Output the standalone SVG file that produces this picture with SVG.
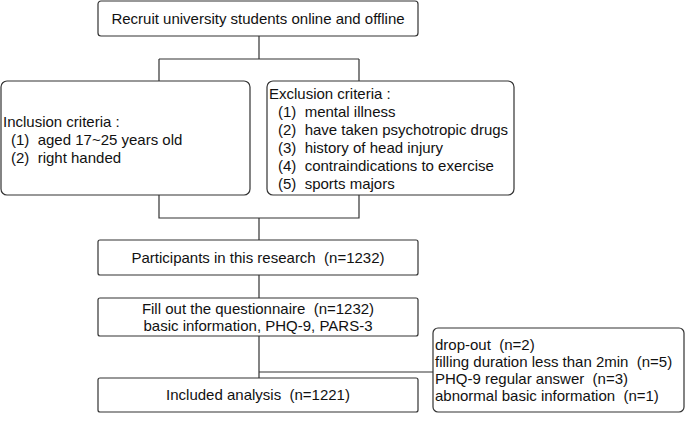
<svg xmlns="http://www.w3.org/2000/svg" width="685" height="443" viewBox="0 0 685 443">
<style>
.b{fill:#fff;stroke:#333;stroke-width:1.2}
.t{font-family:"Liberation Sans",Arial,sans-serif;font-size:15px;fill:#111;white-space:pre}
.c{text-anchor:middle}
.l{fill:none;stroke:#333;stroke-width:1.2}
</style>
<rect width="685" height="443" fill="#fff"/>
<g id="connectors">
<path class="l" d="M259 36V59M159 59H359M159 59V81M359 59V81M159 195V218H359V195M259 218V240M259 275V298M259 336V378M259 372H433"/>
</g>
<g id="recruit"><rect class="b" x="98" y="1" width="320" height="35" rx="3"/><text class="t c" x="258" y="24">Recruit university students online and offline</text></g>
<g id="inclusion"><rect class="b" x="1" y="81" width="249" height="114" rx="6"/>
<text class="t" x="3" y="127">Inclusion criteria :</text>
<text class="t" x="11" y="145">(1)  aged 17~25 years old</text>
<text class="t" x="11" y="163">(2)  right handed</text></g>
<g id="exclusion"><rect class="b" x="267" y="81" width="247" height="114" rx="6"/>
<text class="t" x="269" y="99">Exclusion criteria :</text>
<text class="t" x="278" y="117">(1)  mental illness</text>
<text class="t" x="278" y="135">(2)  have taken psychotropic drugs</text>
<text class="t" x="278" y="153">(3)  history of head injury</text>
<text class="t" x="278" y="171">(4)  contraindications to exercise</text>
<text class="t" x="278" y="189">(5)  sports majors</text></g>
<g id="participants"><rect class="b" x="98" y="240" width="320" height="35" rx="2"/><text class="t c" x="258" y="263">Participants in this research  (n=1232)</text></g>
<g id="questionnaire"><rect class="b" x="98" y="298" width="320" height="38" rx="2"/><text class="t c" x="258" y="314">Fill out the questionnaire  (n=1232)</text><text class="t c" x="258" y="331">basic information, PHQ-9, PARS-3</text></g>
<g id="dropout"><rect class="b" x="433" y="328" width="251" height="84" rx="5"/>
<text class="t" x="435" y="350">drop-out  (n=2)</text>
<text class="t" x="435" y="367">filling duration less than 2min  (n=5)</text>
<text class="t" x="435" y="384">PHQ-9 regular answer  (n=3)</text>
<text class="t" x="435" y="401">abnormal basic information  (n=1)</text></g>
<g id="included"><rect class="b" x="98" y="378" width="320" height="34" rx="2"/><text class="t c" x="258" y="400">Included analysis  (n=1221)</text></g>
</svg>
